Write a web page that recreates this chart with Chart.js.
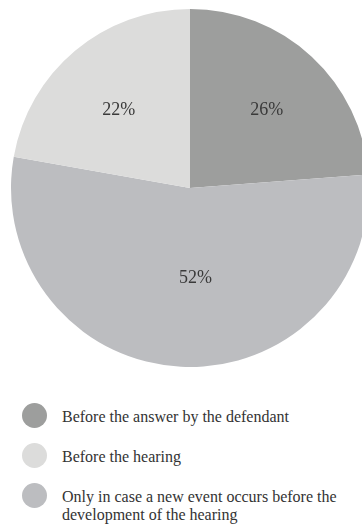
<!DOCTYPE html>
<html>
<head>
<meta charset="utf-8">
<script src="https://cdn.jsdelivr.net/npm/chart.js@4"></script>
<style>
  html, body { margin: 0; padding: 0; background: #fff; overflow: hidden; }
  body { width: 362px; height: 524px; position: relative; }
  #wrap { position: absolute; left: 0; top: 0; width: 380px; height: 376px; }
  #legend { position: absolute; left: 22px; top: 403px; width: 330px;
    font-family: "Liberation Serif", "Times New Roman", serif; font-size: 16px; color: #333; }
  .item { display: flex; align-items: flex-start; margin-bottom: 15px; }
  .dot { width: 25px; height: 25px; border-radius: 50%; flex: 0 0 25px; margin-right: 15px; }
  .txt { line-height: 18px; padding-top: 5px; width: 285px; }
</style>
</head>
<body>
<div id="wrap"><canvas id="myChart"></canvas></div>
<div id="legend"></div>
<script>
'use strict';

// categories, as in the legend
const categories = [
  'Before the answer by the defendant',
  'Only in case a new event occurs before the development of the hearing',
  'Before the hearing'
];
// slice sizes as drawn (measured from the angles)
const sliceValues = [23.8, 54.0, 22.2];
// the percent labels printed on the slices
const pctLabels = ['26%', '52%', '22%'];
const colors = ['#9d9e9d', '#bcbdc0', '#dcdcdb'];
// legend order in the picture
const legendOrder = [0, 2, 1];

// percent text inside each slice
const sliceText = {
  id: 'sliceText',
  afterDatasetsDraw(chart, args, opts) {
    const ctx = chart.ctx;
    const meta = chart.getDatasetMeta(0);
    ctx.save();
    ctx.font = '18px "Liberation Serif", serif';
    ctx.fillStyle = '#3a3a3a';
    ctx.textAlign = 'center';
    ctx.textBaseline = 'alphabetic';
    meta.data.forEach((arc, i) => {
      const p = arc.getProps(['x', 'y', 'startAngle', 'endAngle', 'outerRadius'], true);
      const mid = (p.startAngle + p.endAngle) / 2 + opts.shift[i] * Math.PI / 180;
      const r = p.outerRadius * opts.radius[i];
      ctx.fillText(pctLabels[i], p.x + Math.cos(mid) * r, p.y + Math.sin(mid) * r + 6);
    });
    ctx.restore();
  }
};

const ctx = document.getElementById('myChart').getContext('2d');

let myChartObj = {
  type: 'pie',
  data: {
    labels: categories,
    datasets: [{
      data: sliceValues,
      backgroundColor: colors,
      borderWidth: 0
    }]
  },
  options: {
    responsive: true,
    maintainAspectRatio: false,
    animation: false,
    layout: { padding: 9 },
    plugins: {
      legend: { display: false },
      tooltip: { enabled: false },
      sliceText: { radius: [0.615, 0.496, 0.595], shift: [1.3, -6.5, -2.1] }
    }
  },
  plugins: [sliceText]
};

const myChart = new Chart(ctx, myChartObj);

// html legend so the long label can wrap
const legendEl = document.getElementById('legend');
legendOrder.forEach(i => {
  const row = document.createElement('div');
  row.className = 'item';
  const dot = document.createElement('div');
  dot.className = 'dot';
  dot.style.background = colors[i];
  const txt = document.createElement('div');
  txt.className = 'txt';
  txt.textContent = categories[i];
  row.appendChild(dot);
  row.appendChild(txt);
  legendEl.appendChild(row);
});
</script>
</body>
</html>
